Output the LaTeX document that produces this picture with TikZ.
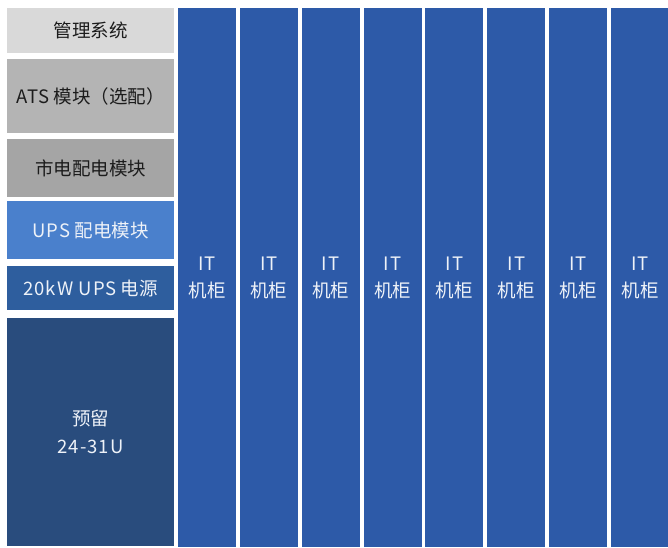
\documentclass[tikz,border=0pt]{standalone}
\usepackage{fontspec}
\setmainfont{Noto Sans CJK SC}
\newfontfamily\latfont[LetterSpace=6]{Noto Sans CJK SC}
\newcommand{\lat}[1]{{\latfont #1}}
\definecolor{grayA}{HTML}{D9D9D9}
\definecolor{grayB}{HTML}{B4B4B4}
\definecolor{grayC}{HTML}{A5A5A5}
\definecolor{upsblue}{HTML}{4A80CC}
\definecolor{powblue}{HTML}{2E5E9E}
\definecolor{resblue}{HTML}{294C7D}
\definecolor{itblue}{HTML}{2D5AA8}
\definecolor{darktext}{HTML}{1C1C1C}
\definecolor{lighttext}{HTML}{EEF2F8}
\tikzset{
  unitbox/.style={inner sep=0pt, minimum width=167pt, align=center,
    font=\fontsize{18.5}{28}\selectfont},
  graybox/.style={unitbox, text=darktext},
  bluebox/.style={unitbox, text=lighttext},
  itbox/.style={inner sep=0pt, minimum width=58pt, minimum height=539pt,
    fill=itblue, text=lighttext, align=center,
    font=\fontsize{18.5}{27}\selectfont}
}
\begin{document}
\begin{tikzpicture}[x=1pt, y=-1pt]
    \useasboundingbox (0,0) rectangle (668,547);

    % Left rack units
    \node [graybox, fill=grayA, minimum height=45pt] (mgmt) at (90.5,30.5) {管理系统};
    \node [graybox, fill=grayB, minimum height=74pt] (ats) at (90.5,96) {\lat{ATS} 模块（选配）};
    \node [graybox, fill=grayC, minimum height=58pt] (mains) at (90.5,168) {市电配电模块};
    \node [bluebox, fill=upsblue, minimum height=58pt] (upsdist) at (90.5,230) {\lat{UPS} 配电模块};
    \node [bluebox, fill=powblue, minimum height=44pt] (ups) at (90.5,288) {\lat{20kW UPS} 电源};
    \node [bluebox, fill=resblue, minimum height=228pt] (reserve) at (90.5,432) {预留\\\lat{24-31U}};

    % IT cabinets
    \foreach \i in {0,...,7}
        \node [itbox] (it\i) at (207+\i*61.86,277.5) {\lat{IT}\\机柜};
\end{tikzpicture}
\end{document}
